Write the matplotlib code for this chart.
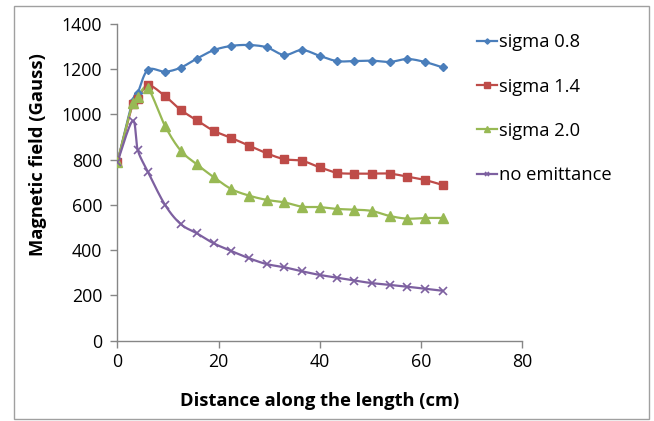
import numpy as np
import matplotlib
matplotlib.use("Agg")
import matplotlib.pyplot as plt

# ---- data ----
distance = [0, 3, 4, 6, 9.4, 12.5, 15.7, 19, 22.5, 26, 29.5, 33, 36.5, 40,
            43.4, 46.8, 50.3, 53.8, 57.3, 60.8, 64.3]
sigma_08 = [790, 1060, 1095, 1197, 1189, 1207, 1247, 1284, 1303, 1307, 1297,
            1263, 1285, 1259, 1236, 1236, 1238, 1232, 1245, 1232, 1208]
sigma_14 = [790, 1045, 1067, 1129, 1081, 1020, 974, 928, 896, 862, 828,
            802, 795, 766, 742, 738, 738, 738, 725, 710, 688]
sigma_20 = [790, 1050, 1075, 1116, 949, 840, 779, 723, 670, 641, 622,
            611, 592, 590, 582, 579, 573, 551, 539, 542, 542]
no_emit = [790, 972, 843, 747, 600, 515, 474, 430, 396, 364, 338,
           324, 306, 290, 278, 265, 254, 246, 238, 229, 220]
series_names = ["sigma 0.8", "sigma 1.4", "sigma 2.0", "no emittance"]
x_ticks = [0, 20, 40, 60, 80]
y_ticks = [0, 200, 400, 600, 800, 1000, 1200, 1400]

plt.rcParams['font.family'] = ['Open Sans', 'DejaVu Sans']

W, H = 654, 421
fig = plt.figure(figsize=(W / 100, H / 100), dpi=100)

def fx(px):
    return px / W

def fy(py):
    return 1 - py / H

ax_l, ax_r, ax_t, ax_b = 117.5, 522, 24, 340.5
ax = fig.add_axes([fx(ax_l), fy(ax_b), fx(ax_r - ax_l), (ax_b - ax_t) / H])

def smooth(x, y, n=20):
    x = np.asarray(x, float)
    y = np.asarray(y, float)
    P = np.column_stack([x, y])
    out = [P[0]]
    for i in range(len(P) - 1):
        p0 = P[i - 1] if i > 0 else P[i]
        p1 = P[i]
        p2 = P[i + 1]
        p3 = P[i + 2] if i + 2 < len(P) else P[i + 1]
        c1 = p1 + (p2 - p0) / 6.0
        c2 = p2 - (p3 - p1) / 6.0
        t = np.linspace(0, 1, n)[1:, None]
        seg = ((1 - t) ** 3) * p1 + 3 * ((1 - t) ** 2) * t * c1 + 3 * (1 - t) * t ** 2 * c2 + t ** 3 * p2
        out.extend(seg)
    out = np.array(out)
    return out[:, 0], out[:, 1]

styles = [
    (sigma_08, "#4A7EBB", "D", 4.5, dict()),
    (sigma_14, "#BE4B48", "s", 6.2, dict()),
    (sigma_20, "#98B954", "^", 7, dict()),
    (no_emit, "#7D60A0", "x", 6, dict(markeredgewidth=1.2)),
]

handles = []
for (vals, col, mk, ms, extra), name in zip(styles, series_names):
    sx, sy = smooth(distance, vals)
    ax.plot(sx, sy, color=col, lw=1.6, zorder=3, solid_capstyle='round')
    ax.plot(distance, vals, linestyle='none', marker=mk, markersize=ms,
            color=col, markeredgecolor=col, zorder=4, **extra)
    h, = ax.plot([], [], color=col, lw=1.6, marker=mk, markersize=ms * 0.6,
                 markeredgecolor=col, **extra)
    handles.append(h)

ax.set_xlim(0, 80)
ax.set_ylim(0, 1400)
ax.set_xticks(x_ticks)
ax.set_yticks(y_ticks)
for s in ['top', 'right']:
    ax.spines[s].set_visible(False)
for s in ['left', 'bottom']:
    ax.spines[s].set_color('#868686')
    ax.spines[s].set_linewidth(1.0)
ax.tick_params(axis='both', colors='#868686', labelcolor='black',
               labelsize=12.8, length=5, width=1.0, direction='out')
ax.tick_params(axis='y', pad=6)
ax.tick_params(axis='x', pad=4)
ax.set_facecolor('none')

fig.text(fx(319.5), fy(401.5), "Distance along the length (cm)", ha='center',
         va='center', fontsize=13.2, fontweight='bold')
fig.text(fx(38), fy(155), "Magnetic field (Gauss)", ha='center',
         va='center', rotation=90, fontsize=13.2, fontweight='bold')

leg = fig.legend(handles, series_names, loc='upper left',
                 bbox_to_anchor=(fx(470), fy(26)), frameon=False,
                 fontsize=13.2, handlelength=1.05, handletextpad=0.12,
                 labelspacing=1.43, borderaxespad=0)

# outer chart border
border = plt.Rectangle((fx(14), fy(419)), fx(649 - 14), (419 - 6) / H,
                       transform=fig.transFigure, fill=False,
                       edgecolor='#a0a0a0', linewidth=1.0)
fig.add_artist(border)

fig.savefig("out.png", dpi=100)
